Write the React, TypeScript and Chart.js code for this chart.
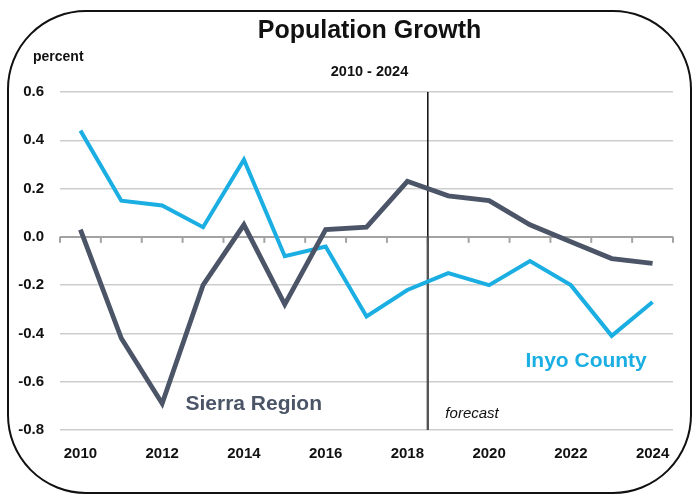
import { useEffect, useRef } from "react";
import { Chart, registerables } from "chart.js";

Chart.register(...registerables);

// ---- data ----
const years = [
  "2010", "2011", "2012", "2013", "2014", "2015", "2016", "2017",
  "2018", "2019", "2020", "2021", "2022", "2023", "2024",
];
const inyoCounty = [
  0.44, 0.15, 0.13, 0.04, 0.32, -0.08, -0.04, -0.33,
  -0.22, -0.15, -0.2, -0.1, -0.2, -0.41, -0.27,
];
const sierraRegion = [
  0.03, -0.42, -0.69, -0.2, 0.05, -0.28, 0.03, 0.04,
  0.23, 0.17, 0.15, 0.05, -0.02, -0.09, -0.11,
];
const yMin = -0.8;
const yMax = 0.6;
const yStep = 0.2;
const titleText = "Population Growth";
const subtitleText = "2010 - 2024";
const unitText = "percent";
const forecastText = "forecast";
const forecastAt = 8.5; // between 2018 and 2019 (category index)
const seriesNames = ["Inyo County", "Sierra Region"];
// label anchors in data space: [category index, value]
const inyoLabelAt = [10.89, -0.517];
const sierraLabelAt = [2.57, -0.695];
const forecastLabelAt = [8.93, -0.733];

const INYO = "#1aaee2";
const SIERRA = "#4b5567";
const FONT = "'Liberation Sans', Arial, Helvetica, sans-serif";

const decor = {
  id: "decor",
  beforeDraw(chart: any) {
    const { ctx } = chart;
    ctx.save();
    ctx.strokeStyle = "#111";
    ctx.lineWidth = 2;
    ctx.beginPath();
    ctx.roundRect(8, 11, 683, 482, 78);
    ctx.stroke();
    ctx.restore();
  },
  beforeDatasetsDraw(chart: any) {
    const { ctx, chartArea } = chart;
    const x = chart.scales.x;
    const y = chart.scales.y;
    const zeroY = y.getPixelForValue(0);
    const step = x.getPixelForValue(1) - x.getPixelForValue(0);
    ctx.save();
    // tick marks below zero line at category boundaries
    ctx.strokeStyle = "#a3a3a3";
    ctx.lineWidth = 2;
    for (let i = 0; i <= years.length; i++) {
      const px = x.getPixelForValue(i) - step / 2;
      ctx.beginPath();
      ctx.moveTo(px, zeroY);
      ctx.lineTo(px, zeroY + 6);
      ctx.stroke();
    }
    // forecast divider
    const fx = x.getPixelForValue(forecastAt);
    ctx.strokeStyle = "#1a1a1a";
    ctx.lineWidth = 1.6;
    ctx.beginPath();
    ctx.moveTo(fx, chartArea.top);
    ctx.lineTo(fx, zeroY);
    ctx.stroke();
    ctx.strokeStyle = "#555";
    ctx.lineWidth = 2.4;
    ctx.beginPath();
    ctx.moveTo(fx, zeroY);
    ctx.lineTo(fx, chartArea.bottom);
    ctx.stroke();
    ctx.restore();
  },
  afterDraw(chart: any) {
    const { ctx, chartArea } = chart;
    const x = chart.scales.x;
    const y = chart.scales.y;
    const cx = (chartArea.left + chartArea.right) / 2 + 3;
    ctx.save();
    ctx.textBaseline = "alphabetic";
    ctx.fillStyle = "#111";
    ctx.textAlign = "center";
    ctx.font = `bold 25px ${FONT}`;
    ctx.fillText(titleText, cx, 38);
    ctx.font = `bold 14.5px ${FONT}`;
    ctx.fillText(subtitleText, cx, 76);
    ctx.textAlign = "left";
    ctx.font = `bold 14px ${FONT}`;
    ctx.fillText(unitText, 33, 61);

    ctx.textBaseline = "middle";
    ctx.font = `italic 15px ${FONT}`;
    ctx.fillText(
      forecastText,
      x.getPixelForValue(forecastLabelAt[0]),
      y.getPixelForValue(forecastLabelAt[1])
    );
    ctx.font = `bold 21px ${FONT}`;
    ctx.fillStyle = INYO;
    ctx.fillText(
      seriesNames[0],
      x.getPixelForValue(inyoLabelAt[0]),
      y.getPixelForValue(inyoLabelAt[1])
    );
    ctx.fillStyle = SIERRA;
    ctx.fillText(
      seriesNames[1],
      x.getPixelForValue(sierraLabelAt[0]),
      y.getPixelForValue(sierraLabelAt[1])
    );
    ctx.restore();
  },
};

export default function App() {
  const ref = useRef<HTMLCanvasElement | null>(null);

  useEffect(() => {
    document.body.style.margin = "0";
    const canvas = ref.current;
    if (!canvas) return;
    const chart = new Chart(canvas, {
      type: "line",
      data: {
        labels: years,
        datasets: [
          {
            label: seriesNames[1],
            data: sierraRegion,
            borderColor: SIERRA,
            borderWidth: 4.8,
            pointRadius: 0,
            tension: 0,
          },
          {
            label: seriesNames[0],
            data: inyoCounty,
            borderColor: INYO,
            borderWidth: 4,
            pointRadius: 0,
            tension: 0,
          },
        ],
      },
      options: {
        responsive: false,
        animation: false,
        devicePixelRatio: 1,
        layout: { padding: { top: 92, right: 19, left: 0, bottom: 0 } },
        plugins: {
          legend: { display: false },
          tooltip: { enabled: false },
          title: { display: false },
        },
        scales: {
          x: {
            type: "category",
            offset: true,
            grid: { display: false },
            border: { display: false },
            ticks: {
              autoSkip: false,
              maxRotation: 0,
              padding: 7,
              color: "#111",
              font: { family: FONT, size: 15, weight: "bold" },
              callback: (_v: any, i: number) => (i % 2 === 0 ? years[i] : ""),
            },
            afterFit: (s: any) => {
              s.height = 65;
            },
          },
          y: {
            min: yMin,
            max: yMax,
            border: { display: false },
            grid: {
              drawTicks: false,
              color: (c: any) =>
                Math.abs(c.tick.value) < 1e-9 ? "#a3a3a3" : "#cdcdcd",
              lineWidth: (c: any) => (Math.abs(c.tick.value) < 1e-9 ? 2 : 1.5),
            },
            ticks: {
              stepSize: yStep,
              padding: 16,
              color: "#111",
              font: { family: FONT, size: 15, weight: "bold" },
              callback: (v: any) =>
                Math.abs(Number(v)) < 1e-9 ? "0.0" : Number(v).toFixed(1),
            },
            afterFit: (s: any) => {
              s.width = 60;
            },
          },
        },
      },
      plugins: [decor],
    });
    return () => chart.destroy();
  }, []);

  return (
    <div style={{ width: 692, height: 495, position: "relative" }}>
      <canvas
        ref={ref}
        width={692}
        height={495}
        style={{ display: "block", width: 692, height: 495 }}
      />
    </div>
  );
}
